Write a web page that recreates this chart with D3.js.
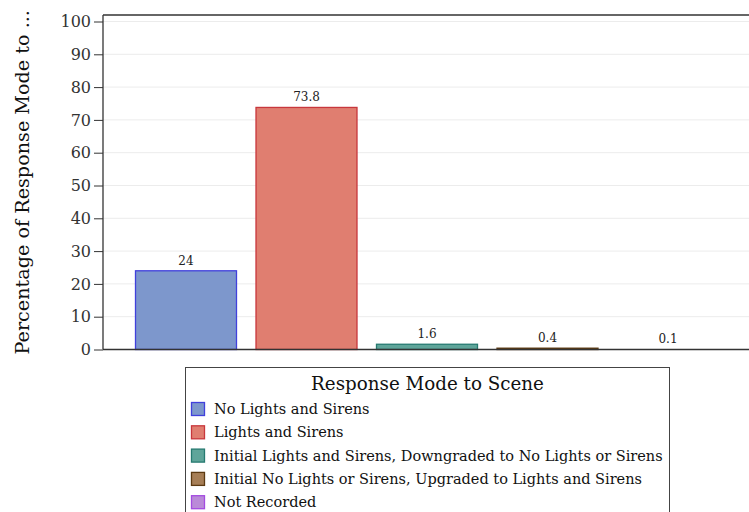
<!DOCTYPE html>
<html><head><meta charset="utf-8">
<script src="https://cdn.jsdelivr.net/npm/d3@7"></script>
<style>body{margin:0;background:#fff}svg{display:block}</style>
</head><body>
<svg id="c" width="749" height="512"></svg>
<script>
const categories = ["No Lights and Sirens","Lights and Sirens","Initial Lights and Sirens, Downgraded to No Lights or Sirens","Initial No Lights or Sirens, Upgraded to Lights and Sirens","Not Recorded"];
const values = [24, 73.8, 1.6, 0.4, 0.1];
const valueLabels = ["24","73.8","1.6","0.4","0.1"];
const fills = ["#7d97cc","#e07e70","#5fa59a","#a67e56","#ba8ad8"];
const strokes = ["#4040dc","#c8373c","#267a70","#5c3a12","#a44be0"];
const yTicks = [0,10,20,30,40,50,60,70,80,90,100];
const yTitle = "Percentage of Response Mode to ...";
const legendTitle = "Response Mode to Scene";

(function(){
const FONT = "'DejaVu Serif', serif";
const svg = d3.select("#c");
const pLeft = 103, pTop = 15, pBottom = 349.5, pRight = 760;
const y = d3.scaleLinear().domain([0,100]).range([pBottom, 21.5]);
const x = d3.scaleBand().domain(categories).range([125.75, 728.25]).paddingInner(0.1535).paddingOuter(0.07675);

svg.append("g").selectAll("line").data(yTicks.filter(d=>d>0)).join("line")
  .attr("x1", pLeft).attr("x2", pRight).attr("y1", d=>y(d)).attr("y2", d=>y(d))
  .attr("stroke", "#ececec").attr("stroke-width", 1);

svg.append("line").attr("x1", pLeft).attr("x2", pRight).attr("y1", pTop).attr("y2", pTop).attr("stroke", "#333").attr("stroke-width", 1.3);

svg.append("g").selectAll("rect").data(categories).join("rect")
  .attr("x", d=>x(d)+0.5).attr("width", x.bandwidth()-1)
  .attr("y", (d,i)=>y(values[i])).attr("height", (d,i)=>pBottom - y(values[i]))
  .attr("fill", (d,i)=>fills[i])
  .attr("stroke", (d,i)=> (pBottom - y(values[i])) < 1 ? "none" : strokes[i]).attr("stroke-width", 1.3);

svg.append("g").selectAll("text").data(categories).join("text")
  .attr("x", d=>x(d)+x.bandwidth()/2).attr("y", (d,i)=>y(values[i]) - 6)
  .attr("text-anchor", "middle").attr("font-family", FONT).attr("font-size", 12).attr("fill", "#222")
  .text((d,i)=>valueLabels[i]);

const ya = svg.append("g").attr("transform", `translate(${pLeft},0)`)
  .call(d3.axisLeft(y).tickValues(yTicks).tickSize(9).tickPadding(3));
ya.select(".domain").attr("d", `M0,${pTop}V${pBottom}`).attr("stroke", "#333").attr("stroke-width", 1.3);
ya.selectAll(".tick line").attr("stroke", "#333");
ya.selectAll(".tick text").attr("font-family", FONT).attr("font-size", 16).attr("fill", "#333");

svg.append("line").attr("x1", pLeft).attr("x2", pRight).attr("y1", pBottom).attr("y2", pBottom).attr("stroke", "#333").attr("stroke-width", 1.3);

svg.append("text").attr("transform", `translate(29,${(pTop+pBottom)/2}) rotate(-90)`)
  .attr("text-anchor", "middle").attr("font-family", FONT).attr("font-size", 19.2).attr("fill", "#111")
  .text(yTitle);

const lg = svg.append("g");
lg.append("rect").attr("x", 185.5).attr("y", 367.5).attr("width", 484).attr("height", 160)
  .attr("fill", "#fff").attr("stroke", "#444").attr("stroke-width", 1);
lg.append("text").attr("x", 427.5).attr("y", 390).attr("text-anchor", "middle")
  .attr("font-family", FONT).attr("font-size", 18.3).attr("fill", "#111").text(legendTitle);
const items = lg.selectAll("g.it").data(categories).join("g").attr("class","it")
  .attr("transform", (d,i)=>`translate(191,${402 + i*23.3})`);
items.append("rect").attr("x", 0.5).attr("y", 0.5).attr("width", 13).attr("height", 13)
  .attr("fill", (d,i)=>fills[i]).attr("stroke", (d,i)=>strokes[i]).attr("stroke-width", 1.3);
items.append("text").attr("x", 23).attr("y", 12).attr("font-family", FONT).attr("font-size", 14.5).attr("fill", "#111")
  .text(d=>d);
})();
</script>
</body></html>
